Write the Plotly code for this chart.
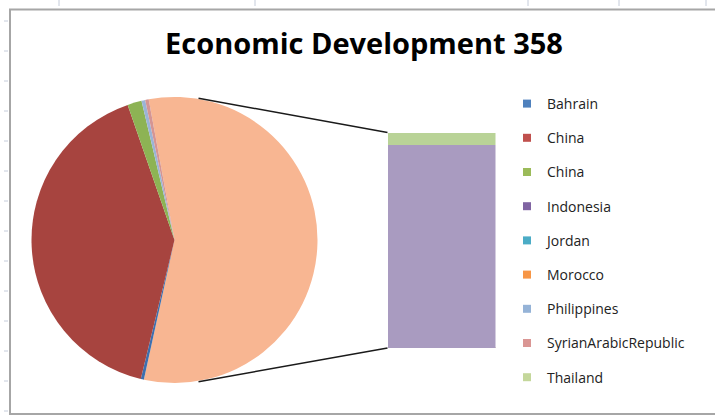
import math
import plotly.graph_objects as go

# ---- data (percent shares) ----
countries = ["Bahrain", "China", "China", "Indonesia", "Jordan", "Morocco",
             "Philippines", "SyrianArabicRepublic", "Thailand"]
legend_colors = ["#4F81BD", "#C0504D", "#9BBB59", "#8064A2", "#4BACC6",
                 "#F79646", "#95B3D7", "#DA9694", "#C4D79B"]

# slices that go into the pie (clockwise after the "Other" slice)
pie_members = ["Bahrain", "China", "China ", "Philippines", "SyrianArabicRepublic"]
pie_values = [0.35, 40.9, 1.6, 0.42, 0.4]
pie_colors = ["#3D6FAE", "#A7443F", "#8DB354", "#9BB4D6", "#D59593"]

# points split off into the bar (bottom to top)
bar_members = ["Jordan", "Morocco", "Indonesia", "Thailand"]
bar_values = [0.18, 0.07, 53.0, 3.08]
bar_colors = ["#9FD4E8", "#F7C39A", "#A99BC0", "#B9D397"]
other_color = "#F8B692"

title_text = "Economic Development 358"

W, H = 715, 416
other_total = sum(bar_values)

# ---- pie geometry ----
cx, cy, r = 174.5, 240.0, 143.0
pie_dom_x = [(cx - r) / W, (cx + r) / W]
pie_dom_y = [(H - cy - r) / H, (H - cy + r) / H]

start_deg = -10.4  # "Other" slice starts a bit left of 12 o'clock

fig = go.Figure()
fig.add_trace(go.Pie(
    labels=["Other"] + pie_members,
    values=[other_total] + pie_values,
    marker=dict(colors=[other_color] + pie_colors, line=dict(width=0)),
    sort=False, direction="clockwise", rotation=start_deg,
    textinfo="none", hoverinfo="label+value", showlegend=False,
    domain=dict(x=pie_dom_x, y=pie_dom_y),
))

# ---- bar of the split-off points ----
bx0, bx1, by_top, by_bot = 387.5, 495.5, 132.5, 348.0
for name, val, col in zip(bar_members, bar_values, bar_colors):
    fig.add_trace(go.Bar(x=[0], y=[val], name=name, marker=dict(color=col, line=dict(width=0)),
                         width=1, showlegend=False, xaxis="x", yaxis="y"))

# ---- legend entries ----
for i, (name, col) in enumerate(zip(countries, legend_colors)):
    fig.add_trace(go.Scatter(x=[None], y=[None], mode="markers", name=name,
                             legendgroup=str(i),
                             marker=dict(symbol="square", size=8, color=col),
                             xaxis="x", yaxis="y"))

shapes = []
# connector lines from the "Other" slice to the bar
for py, bar_y in ((98.3, by_top), (381.7, by_bot)):
    shapes.append(dict(type="line", xref="paper", yref="paper",
                       x0=198.5 / W, y0=(H - py) / H, x1=bx0 / W, y1=(H - bar_y) / H,
                       line=dict(color="#1a1a1a", width=1.5)))

# chart border
shapes.append(dict(type="rect", xref="paper", yref="paper",
                   x0=10 / W, y0=(H - 414) / H, x1=720 / W, y1=(H - 9.5) / H,
                   line=dict(color="#A6A6A6", width=2), fillcolor="rgba(0,0,0,0)"))
# spreadsheet ticks outside the chart
for ty in range(21, 415, 30):
    shapes.append(dict(type="line", xref="paper", yref="paper",
                       x0=4 / W, x1=8 / W, y0=(H - ty) / H, y1=(H - ty) / H,
                       line=dict(color="#C5CCDA", width=1)))
for tx in (59, 255, 528, 619, 706):
    shapes.append(dict(type="line", xref="paper", yref="paper",
                       x0=tx / W, x1=tx / W, y0=(H - 0) / H, y1=(H - 6) / H,
                       line=dict(color="#C5CCDA", width=1)))

fig.update_layout(
    width=W, height=H,
    margin=dict(l=0, r=0, t=0, b=0),
    paper_bgcolor="white", plot_bgcolor="rgba(0,0,0,0)",
    barmode="stack", bargap=0,
    title=dict(text="<b>" + title_text + "</b>", x=364 / W, xanchor="center",
               y=(H - 44) / H, yanchor="middle",
               font=dict(family="Open Sans", size=29, color="#000000")),
    xaxis=dict(domain=[bx0 / W, bx1 / W], range=[-0.5, 0.5], visible=False, fixedrange=True),
    yaxis=dict(domain=[(H - by_bot) / H, (H - by_top) / H], range=[0, other_total],
               visible=False, fixedrange=True),
    legend=dict(x=507 / W, y=(H - 88) / H, xanchor="left", yanchor="top",
                font=dict(family="Open Sans", size=14, color="#222222"),
                tracegroupgap=13, bgcolor="rgba(0,0,0,0)", itemclick=False),
    shapes=shapes,
)

fig.write_html("out.html")
